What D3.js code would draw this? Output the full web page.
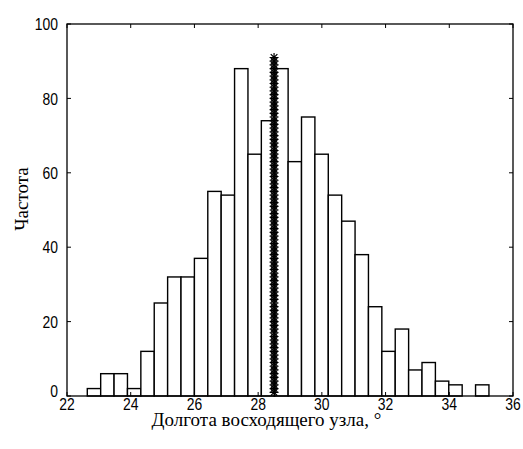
<!DOCTYPE html>
<html>
<head>
<meta charset="utf-8">
<script src="https://cdn.jsdelivr.net/npm/d3@7"></script>
<style>
  html, body { margin: 0; padding: 0; background: #fff; }
  svg { display: block; }
  .tick-label { font-family: 'Liberation Sans', Arial, sans-serif; font-size: 17px; fill: #000; }
  .axis-title { font-family: 'Liberation Serif', 'Times New Roman', serif; font-size: 19px; fill: #000; }
</style>
</head>
<body>
<svg id="chart" width="523" height="449"></svg>
<script>
// ---- data ----
const binStart = 22.637;          // left edge of first bin
const binEnd = 35.245;            // right edge of last bin
const counts = [2, 6, 6, 2, 12, 25, 32, 32, 37, 55, 54, 88, 65, 74, 88,
                63, 75, 65, 54, 47, 38, 24, 12, 18, 7, 9, 4, 3, 0, 3];
const meanValue = 28.5;
const markerY = [1, 2, 3, 4, 5, 6, 7, 8, 9, 10, 11, 12, 13, 14, 15, 16, 17, 18, 19, 20,
                 21, 22, 23, 24, 25, 26, 27, 28, 29, 30, 31, 32, 33, 34, 35, 36, 37, 38, 39, 40,
                 41, 42, 43, 44, 45, 46, 47, 48, 49, 50, 51, 52, 53, 54, 55, 56, 57, 58, 59, 60,
                 61, 62, 63, 64, 65, 66, 67, 68, 69, 70, 71, 72, 73, 74, 75, 76, 77, 78, 79, 80,
                 81, 82, 83, 84, 85, 86, 87, 88, 89, 90, 91];
const xTicks = [22, 24, 26, 28, 30, 32, 34, 36];
const yTicks = [0, 20, 40, 60, 80, 100];
const xTitle = "Долгота восходящего узла, °";
const yTitle = "Частота";

// ---- layout ----
const svg = d3.select("#chart");
const pL = 67, pR = 513, pT = 24, pB = 396;
const x = d3.scaleLinear().domain([22, 36]).range([pL, pR]);
const y = d3.scaleLinear().domain([0, 100]).range([pB, pT]);

const binW = (binEnd - binStart) / counts.length;
const bins = counts.map((c, i) => ({ x0: binStart + i * binW, x1: binStart + (i + 1) * binW, c }));

// bars
svg.append("g").selectAll("rect").data(bins).join("rect")
  .attr("x", d => x(d.x0))
  .attr("y", d => y(d.c))
  .attr("width", d => x(d.x1) - x(d.x0))
  .attr("height", d => y(0) - y(d.c))
  .attr("fill", "#fff")
  .attr("stroke", "#000")
  .attr("stroke-width", 1.4);

// asterisk markers
const r = 4.5, rd = 3.3;
const star = `M0,${-r}L0,${r}M${-r},0L${r},0M${-rd},${-rd}L${rd},${rd}M${-rd},${rd}L${rd},${-rd}`;
svg.append("g").selectAll("path").data(markerY).join("path")
  .attr("transform", d => `translate(${x(meanValue)},${y(d)})`)
  .attr("d", star)
  .attr("fill", "none")
  .attr("stroke", "#000")
  .attr("stroke-width", 1.2);

// box
svg.append("rect")
  .attr("x", pL).attr("y", pT)
  .attr("width", pR - pL).attr("height", pB - pT)
  .attr("fill", "none").attr("stroke", "#000").attr("stroke-width", 1.3);

// axes with inward ticks (bottom & top, left & right)
const tl = 4;
const sx = 0.82; // narrow tick font
const gx = svg.append("g");
xTicks.forEach(t => {
  gx.append("line").attr("x1", x(t)).attr("x2", x(t)).attr("y1", pB).attr("y2", pB - tl).attr("stroke", "#000");
  gx.append("line").attr("x1", x(t)).attr("x2", x(t)).attr("y1", pT).attr("y2", pT + tl).attr("stroke", "#000");
  gx.append("text").attr("class", "tick-label")
    .attr("transform", `translate(${x(t)},410) scale(${sx},1)`)
    .attr("text-anchor", "middle").text(t);
});
const gy = svg.append("g");
yTicks.forEach(t => {
  gy.append("line").attr("x1", pL).attr("x2", pL + tl).attr("y1", y(t)).attr("y2", y(t)).attr("stroke", "#000");
  gy.append("line").attr("x1", pR).attr("x2", pR - tl).attr("y1", y(t)).attr("y2", y(t)).attr("stroke", "#000");
  gy.append("text").attr("class", "tick-label")
    .attr("transform", `translate(58,${t === 0 ? y(t) - 5 : y(t)}) scale(${sx},1)`)
    .attr("dy", "0.36em")
    .attr("text-anchor", "end").text(t);
});

// titles
svg.append("text").attr("class", "axis-title")
  .attr("x", 266.5).attr("y", 426).attr("text-anchor", "middle").text(xTitle);
svg.append("text").attr("class", "axis-title")
  .attr("transform", "translate(28,199) rotate(-90)")
  .attr("text-anchor", "middle").text(yTitle);
</script>
</body>
</html>
